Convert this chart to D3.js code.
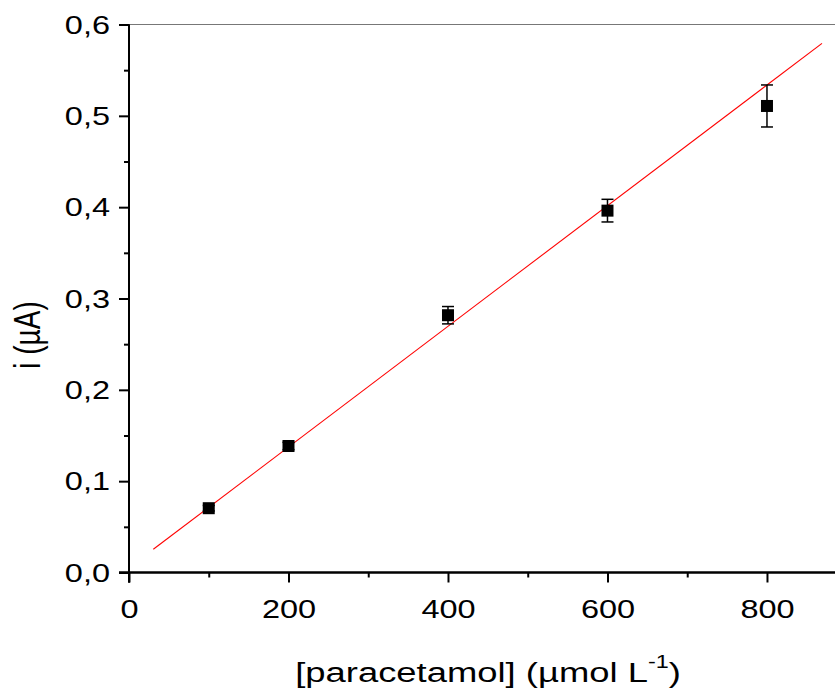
<!DOCTYPE html>
<html>
<head>
<meta charset="utf-8">
<script src="https://cdn.jsdelivr.net/npm/d3@7/dist/d3.min.js"></script>
<style>
  html, body { margin: 0; padding: 0; background: #fff; }
  svg { display: block; font-family: "Liberation Sans", Arial, sans-serif; }
</style>
</head>
<body>
<svg id="chart" width="835" height="690"></svg>
<script>
// Data
const concentrations = [100, 200, 400, 600, 800];          // µmol L-1
const currents       = [0.0704, 0.1385, 0.2817, 0.3962, 0.5108]; // µA
const errors         = [0.003, 0.004, 0.0095, 0.0124, 0.023];
const fitX = [30.5, 869];       // fitted line end points
const fitY = [0.0254, 0.5794];
const xMajorTicks = [0, 200, 400, 600, 800];
const xMinorTicks = [100, 300, 500, 700];
const yMajorTicks = [0, 0.1, 0.2, 0.3, 0.4, 0.5, 0.6];
const yMinorTicks = [0.05, 0.15, 0.25, 0.35, 0.45, 0.55];

const SX = 1.3; // horizontal stretch of text in the reference
const svg = d3.select("#chart");
const mLeft = 129, mRight = 835, mTop = 24.5, mBottom = 572.5;

const x = d3.scaleLinear().domain([0, 885.3]).range([mLeft, mRight]);
const y = d3.scaleLinear().domain([0, 0.6]).range([mBottom, mTop]);

// top frame line
svg.append("line")
  .attr("x1", mLeft).attr("x2", mRight).attr("y1", mTop).attr("y2", mTop)
  .attr("stroke", "#777").attr("stroke-width", 1.2);

// X axis
const gx = svg.append("g").attr("transform", `translate(0,${mBottom})`);
gx.append("g").call(d3.axisBottom(x).tickValues(xMinorTicks).tickSize(5).tickFormat(""))
  .call(g => g.selectAll("text").remove());
gx.append("g").call(d3.axisBottom(x).tickValues(xMajorTicks).tickSize(10).tickFormat(d3.format("d")));
gx.selectAll(".domain").attr("d", `M${mLeft - 10},0H${mRight}`).attr("stroke", "#000").attr("stroke-width", 2);
gx.selectAll(".tick line").attr("stroke", "#000").attr("stroke-width", 2);
gx.selectAll(".tick text")
  .attr("y", 0).attr("dy", 0).attr("x", 0)
  .attr("transform", `translate(0,45.5) scale(${SX},1)`)
  .attr("font-size", 25).attr("fill", "#000")
  .attr("font-family", "Liberation Sans, Arial, sans-serif");

// Y axis
const gy = svg.append("g").attr("transform", `translate(${mLeft},0)`);
gy.append("g").call(d3.axisLeft(y).tickValues(yMinorTicks).tickSize(5).tickFormat(""));
gy.append("g").call(d3.axisLeft(y).tickValues(yMajorTicks).tickSize(10)
  .tickFormat(d => d3.format(".1f")(d).replace(".", ",")));
gy.selectAll(".domain").attr("d", `M0,${mTop}V${mBottom + 10}`).attr("stroke", "#000").attr("stroke-width", 2);
gy.selectAll(".tick line").attr("stroke", "#000").attr("stroke-width", 2);
gy.selectAll(".tick text")
  .attr("x", 0).attr("dy", "0.35em")
  .attr("transform", `translate(-19,0) scale(${SX},1)`)
  .attr("font-size", 25).attr("fill", "#000")
  .attr("font-family", "Liberation Sans, Arial, sans-serif");

// Fit line
svg.append("line")
  .attr("x1", x(fitX[0])).attr("y1", y(fitY[0]))
  .attr("x2", x(fitX[1])).attr("y2", y(fitY[1]))
  .attr("stroke", "#ff0000").attr("stroke-width", 1.1);

// Error bars
const pts = concentrations.map((c, i) => ({c, v: currents[i], e: errors[i]}));
const eb = svg.append("g").attr("stroke", "#000").attr("stroke-width", 1.5);
pts.forEach(p => {
  eb.append("line").attr("x1", x(p.c)).attr("x2", x(p.c))
    .attr("y1", y(p.v - p.e)).attr("y2", y(p.v + p.e));
  [p.v - p.e, p.v + p.e].forEach(v => {
    eb.append("line").attr("x1", x(p.c) - 6).attr("x2", x(p.c) + 6)
      .attr("y1", y(v)).attr("y2", y(v));
  });
});

// Markers
svg.append("g").selectAll("rect").data(pts).join("rect")
  .attr("x", d => x(d.c) - 6).attr("y", d => y(d.v) - 6)
  .attr("width", 12).attr("height", 12).attr("fill", "#000");

// X title
const xt = svg.append("text")
  .attr("transform", `translate(488,682) scale(${SX},1)`)
  .attr("text-anchor", "middle").attr("font-size", 28).attr("fill", "#000");
xt.append("tspan").text("[paracetamol] (µmol L");
xt.append("tspan").attr("font-size", 18).attr("dy", -14).text("-1");
xt.append("tspan").attr("dy", 14).text(")");

// Y title
svg.append("text")
  .attr("transform", `translate(40,335) scale(${SX},1) rotate(-90)`)
  .attr("text-anchor", "middle").attr("font-size", 28).attr("fill", "#000")
  .text("i (µA)");
</script>
</body>
</html>
